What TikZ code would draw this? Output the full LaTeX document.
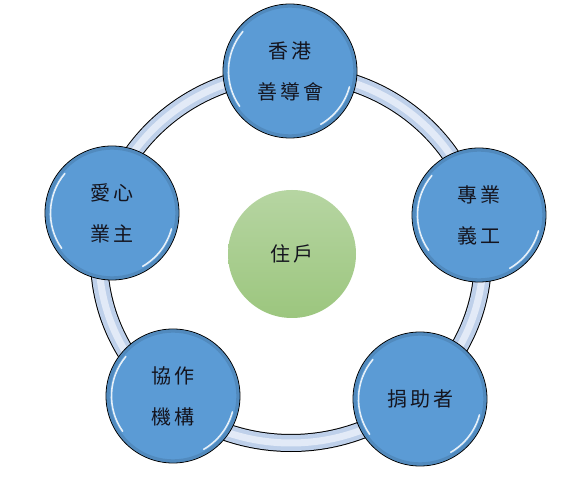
\documentclass[tikz,border=0pt]{standalone}
\usepackage{fontspec}
\newfontfamily\cjk[LetterSpace=15]{Noto Sans CJK TC}
\usetikzlibrary{calc}
\definecolor{hubblue}{RGB}{91,155,213}
\definecolor{ringblue}{RGB}{190,208,234}
\definecolor{ringlight}{RGB}{226,234,247}
\definecolor{leafhi}{RGB}{182,213,162}
\definecolor{leaflo}{RGB}{156,198,126}
\definecolor{ink}{RGB}{20,20,30}
\tikzset{
  member/.style={circle,draw=black,line width=0.8pt,fill=hubblue,minimum size=134pt,
    inner sep=0pt,align=center,text=ink,font=\cjk\fontsize{20}{41}\selectfont},
  resident/.style={circle,top color=leafhi,bottom color=leaflo,minimum size=128pt,
    inner sep=0pt,text=ink,font=\cjk\fontsize{20}{24}\selectfont},
  rim/.style={hubblue!70!black,line width=3pt,opacity=0.35},
  gloss/.style={white,line width=1.6pt,opacity=0.85,line cap=round},
}

\begin{document}
\begin{tikzpicture}[x=1pt,y=1pt]
  \useasboundingbox[fill=white] (0,0) rectangle (587,477);
  % ring
  \coordinate (hub) at (291,219);
  \draw[line width=18pt,black] (hub) ellipse [x radius=192,y radius=185];
  \draw[line width=16pt,ringblue] (hub) ellipse [x radius=192,y radius=185];
  \draw[line width=7pt,ringlight] (hub) ellipse [x radius=192,y radius=185];
  % members
  \node[member] (hk) at (290,406) {香港\\善導會};
  \node[member] (pro) at (479,262) {專業\\義工};
  \node[member] (donor) at (420,78) {捐助者};
  \node[member] (partner) at (173,81) {協作\\機構};
  \node[member] (owner) at (112,264) {愛心\\業主};
  \foreach \n in {hk,pro,donor,partner,owner} {
    \draw[rim] (\n.center) circle (64.8);
    \draw[gloss] ([shift={(140:61.5)}]\n.center) arc (140:215:61.5);
    \draw[gloss] ([shift={(-15:61.5)}]\n.center) arc (-15:-60:61.5);
  }
  \node[resident] (home) at (292,223) {住戶};
\end{tikzpicture}
\end{document}
